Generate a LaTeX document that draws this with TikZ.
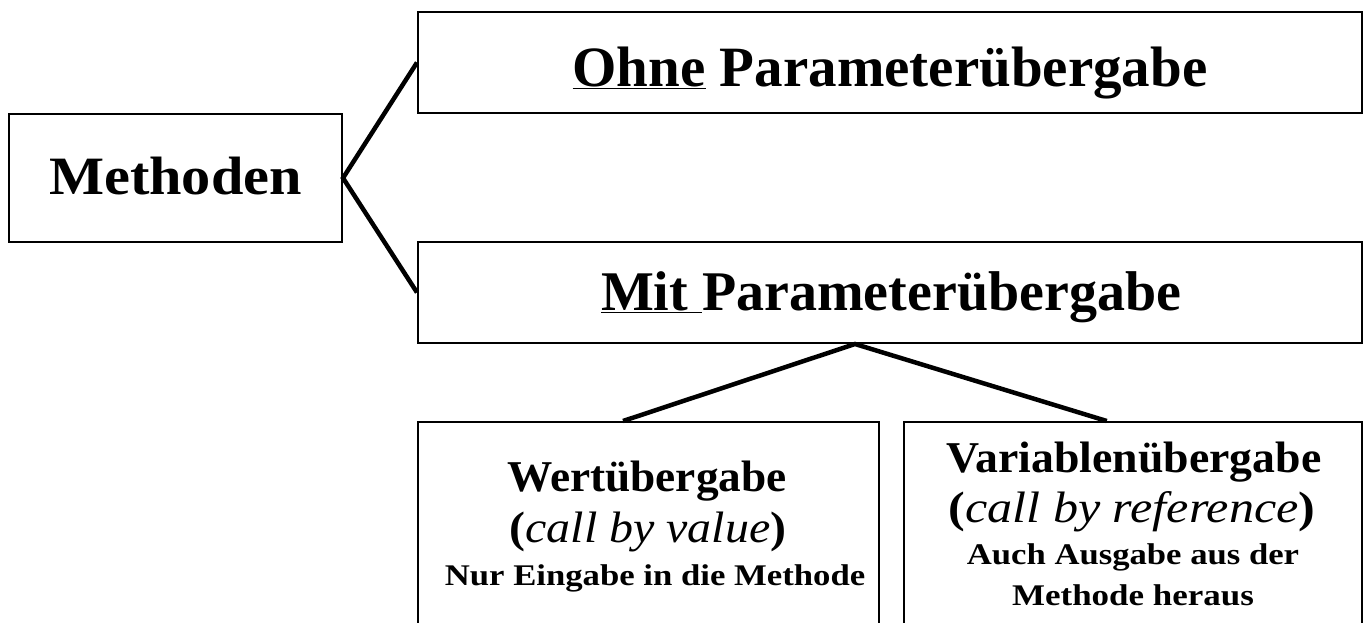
\documentclass[tikz,border=0pt]{standalone}
\usepackage{graphicx}
\usepackage{fontspec}
\setmainfont{Liberation Serif}
\usetikzlibrary{calc}
\newcommand{\hs}[2]{\scalebox{#1}[1]{#2}}
\begin{document}
\begin{tikzpicture}[x=1pt,y=-1pt,
  box/.style={draw=black,line width=2pt,inner sep=0pt,fill=white},
  conn/.style={draw=black,line width=4.5pt,line join=miter},
  txt/.style={inner sep=0pt,anchor=base},
  big/.style={font=\fontsize{57}{60}\selectfont\bfseries},
  huge/.style={font=\fontsize{54}{60}\selectfont\bfseries},
  mid/.style={font=\fontsize{44}{48}\selectfont\bfseries},
  small/.style={font=\fontsize{30}{34}\selectfont\bfseries}]
\useasboundingbox (0,0) rectangle (1367,622);
\clip (0,0) rectangle (1367,622);
\fill[white] (0,0) rectangle (1367,622);
% boxes
\node[box,minimum width=333pt,minimum height=128pt] (meth) at (175.5,178) {};
\node[box,minimum width=944pt,minimum height=101pt] (ohne) at (890,62.5) {};
\node[box,minimum width=944pt,minimum height=101pt] (mit) at (890,292.5) {};
\node[box,minimum width=461pt,minimum height=300pt] (wert) at (648.5,572) {};
\node[box,minimum width=458pt,minimum height=300pt] (var) at (1133,572) {};
% texts
\node[txt,huge] (methT) at (175.5,194) {\hs{1.08}{Methoden}};
\node[txt,big] (ohneT) at (890,86) {\underline{Ohne} Parameterübergabe};
\node[txt,big,font=\fontsize{56}{60}\selectfont\bfseries] (mitT) at (891,310) {\underline{Mit\ }Parameterübergabe};
\node[txt,mid] (wertA) at (647,491) {\hs{1.03}{Wertübergabe}};
\node[txt,mid] (wertB) at (648,542) {\hs{1.09}{(\textit{\mdseries call by value})}};
\node[txt,small] (wertC) at (655,585) {\hs{1.157}{Nur Eingabe in die Methode}};
\node[txt,mid] (varA) at (1134,472) {\hs{1.04}{Variablenübergabe}};
\node[txt,mid] (varB) at (1132,522) {\hs{1.14}{(\textit{\mdseries call by reference})}};
\node[txt,small] (varC) at (1133,564) {\hs{1.155}{Auch Ausgabe aus der}};
\node[txt,small] (varD) at (1133,605) {\hs{1.165}{Methode heraus}};
% connectors
\coordinate (apex) at ($(mit.south west)!0.463!(mit.south east)$);
\coordinate (wtop) at ($(wert.north west)!0.445!(wert.north east)$);
\coordinate (vtop) at ($(var.north west)!0.443!(var.north east)$);
\draw[conn] (ohne.west) -- (meth.east) -- (mit.west);
\draw[conn] (wtop) -- (apex) -- (vtop);
\end{tikzpicture}
\end{document}
